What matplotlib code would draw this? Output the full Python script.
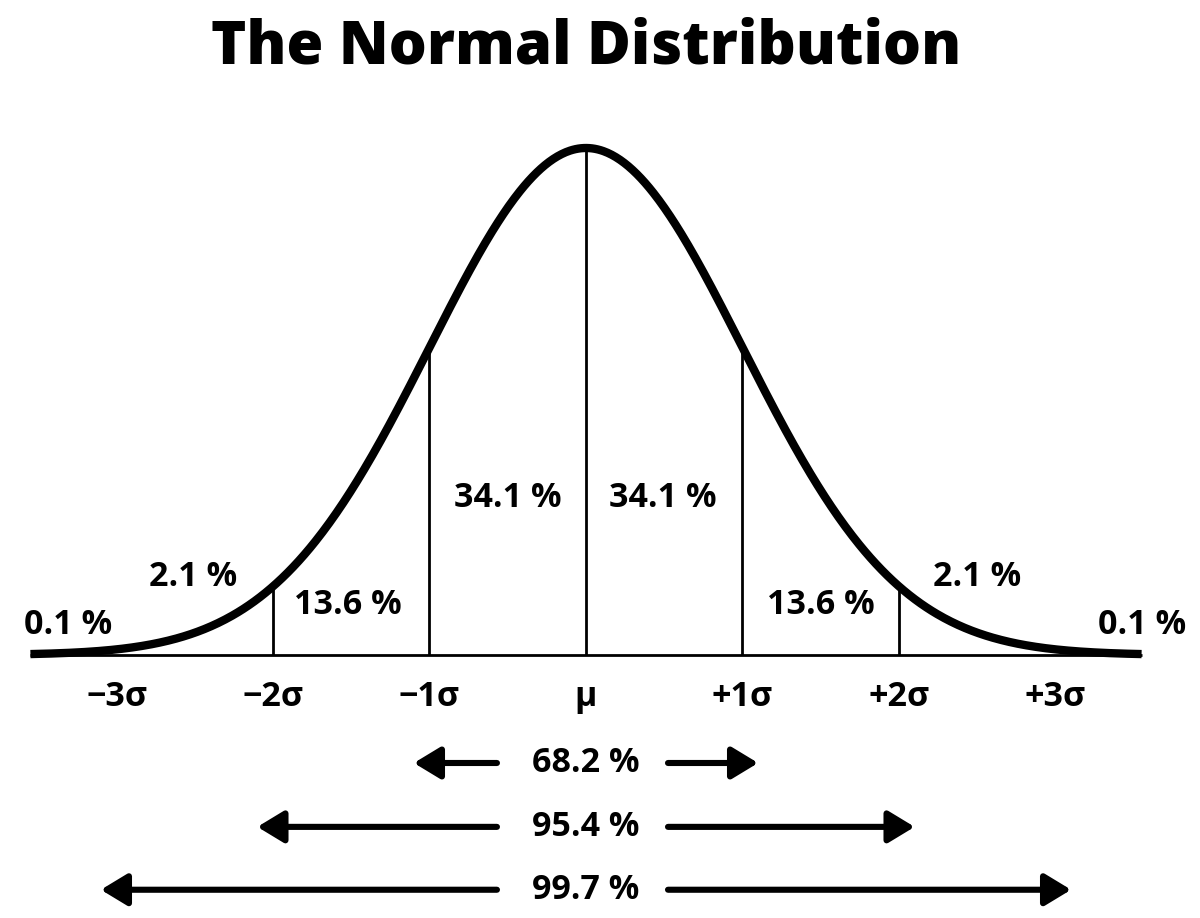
import numpy as np
import matplotlib
matplotlib.use("Agg")
import matplotlib.pyplot as plt

# ---- data ----
sigma_positions = [-3, -2, -1, 0, 1, 2, 3]
sigma_labels = ["\u22123\u03c3", "\u22122\u03c3", "\u22121\u03c3", "\u03bc", "+1\u03c3", "+2\u03c3", "+3\u03c3"]
divider_positions = [-2, -1, 0, 1, 2]
region_labels = ["0.1 %", "2.1 %", "13.6 %", "34.1 %", "34.1 %", "13.6 %", "2.1 %", "0.1 %"]
region_x = [-3.31, -2.51, -1.52, -0.50, 0.49, 1.50, 2.50, 3.55]
region_y = [0.059, 0.154, 0.099, 0.31, 0.31, 0.099, 0.154, 0.059]
range_labels = ["68.2 %", "95.4 %", "99.7 %"]
range_sigmas = [1, 2, 3]
range_y = [-0.213, -0.339, -0.463]
title = "The Normal Distribution"

FONT = "Open Sans"
plt.rcParams['font.family'] = [FONT, 'DejaVu Sans']

fig = plt.figure(figsize=(12, 9.18), dpi=100)
ax = fig.add_axes([0, 0, 1, 1])
ax.set_xlim(-586 / 156.5, (1200 - 586) / 156.5)
ax.set_ylim(-263 / 507, 655 / 507)
ax.axis('off')

def pdf(z):
    return np.exp(-np.asarray(z) ** 2 / 2.0)

z = np.linspace(-3.55, 3.55, 800)
ax.plot([-3.55, 3.55], [0, 0], color='black', lw=2.0, solid_capstyle='butt')
ax.plot(z, pdf(z), color='black', lw=6.0, solid_capstyle='butt', solid_joinstyle='round')
for d in divider_positions:
    ax.plot([d, d], [0, pdf(d)], color='black', lw=2.0, solid_capstyle='butt')

for lab, x, y in zip(region_labels, region_x, region_y):
    ax.text(x, y, lab, ha='center', va='center', fontsize=24.5, fontweight='bold', family=[FONT, 'DejaVu Sans'])

for lab, x in zip(sigma_labels, sigma_positions):
    ax.text(x, -0.083, lab, ha='center', va='center', fontsize=24.5, fontweight='bold', family=[FONT, 'DejaVu Sans'])

for lab, s, y in zip(range_labels, range_sigmas, range_y):
    ax.text(0, y, lab, ha='center', va='center', fontsize=24.5, fontweight='bold', family=[FONT, 'DejaVu Sans'])
    for sign, tail in ((-1, -0.569), (1, 0.524)):
        ax.annotate('', xy=(sign * (s + 0.1), y), xytext=(tail, y),
                    arrowprops=dict(arrowstyle='-|>,head_length=16,head_width=9.7',
                                    mutation_scale=1, lw=4.4, color='black',
                                    shrinkA=0, shrinkB=0))

fig.text(586 / 1200, 1 - 47 / 918, title, ha='center', va='center', fontsize=43,
         fontweight='heavy', family=[FONT, 'DejaVu Sans'])

fig.savefig('out.png', dpi=100, facecolor='white')
